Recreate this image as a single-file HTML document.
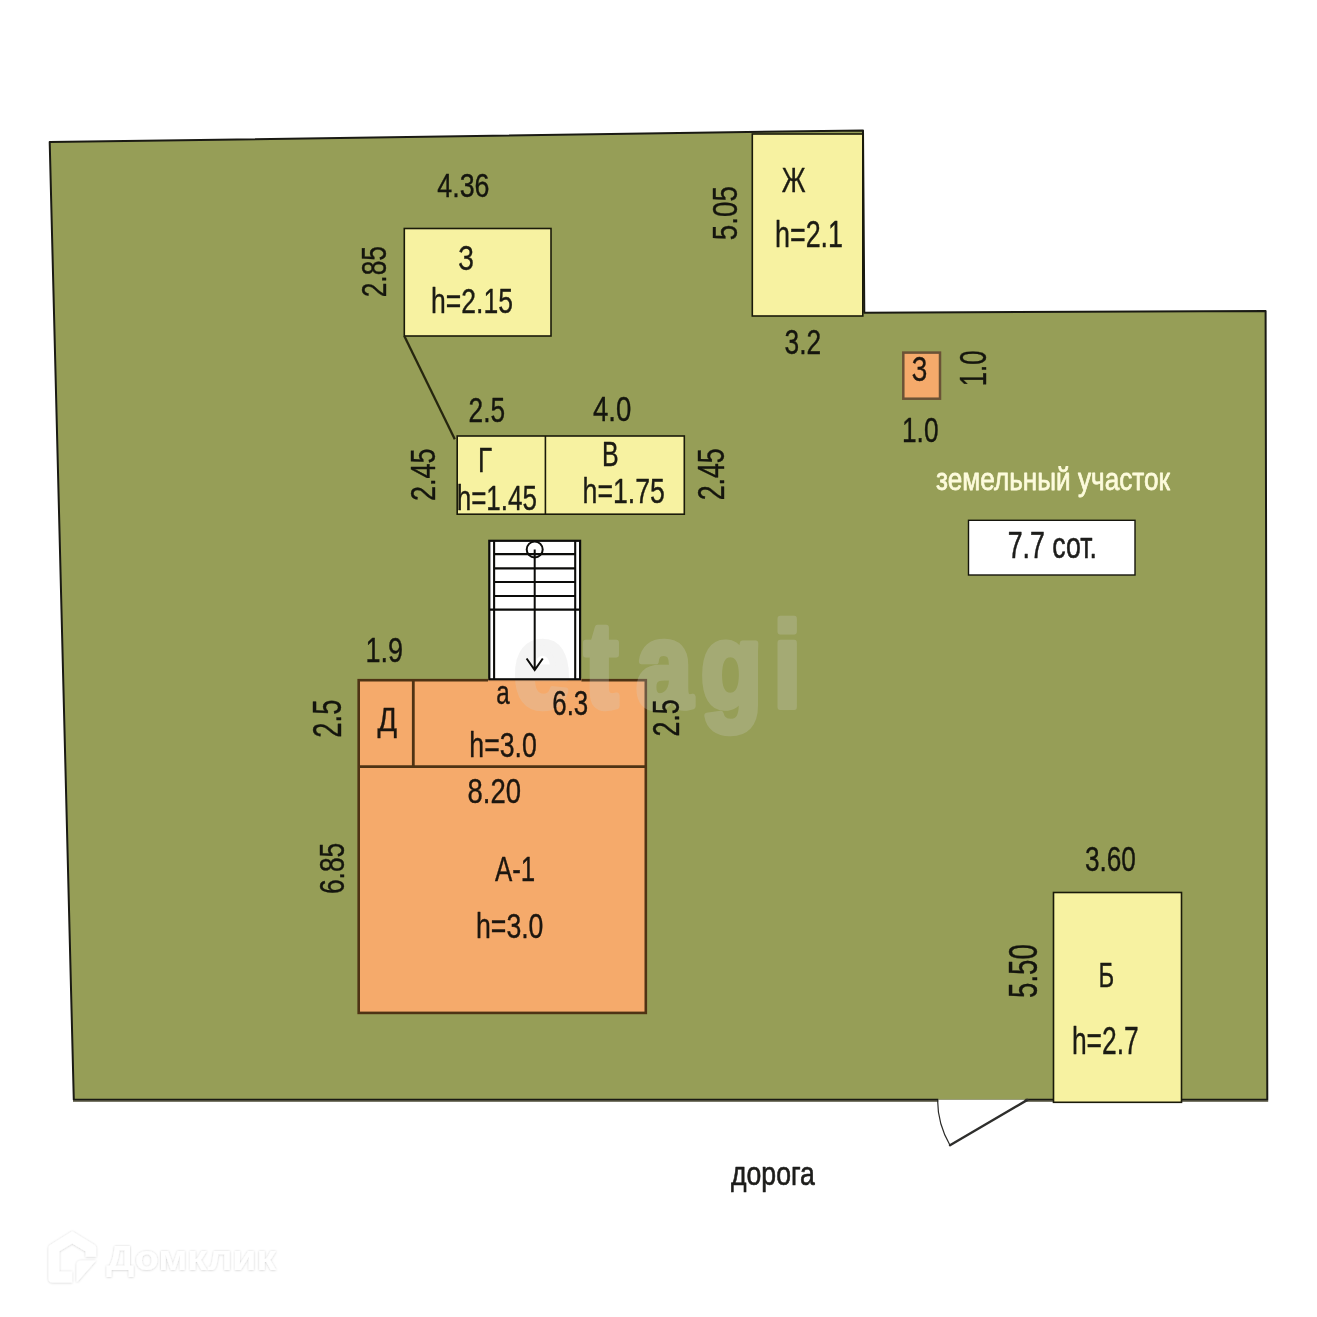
<!DOCTYPE html>
<html lang="ru"><head><meta charset="utf-8"><title>План участка</title>
<style>
html,body{margin:0;padding:0;background:#fff;}
body{width:1317px;height:1317px;overflow:hidden;}
svg{will-change:transform;display:block;font-family:"Liberation Sans",sans-serif;}
</style></head><body>
<svg width="1317" height="1317" viewBox="0 0 1317 1317">
<rect width="1317" height="1317" fill="#ffffff"/>
<polygon points="49.7,142.1 863,130.4 864.3,312.8 1265.6,311 1267.3,1099.7 73.8,1099.7" fill="#969e57" stroke="#1a1a14" stroke-width="2" stroke-linejoin="round"/>
<line x1="73" y1="1100.95" x2="1268.2" y2="1100.95" stroke="#4d4b36" stroke-width="1.6"/>
<rect x="938.3" y="1098" width="87.2" height="1.7" fill="#969e57"/>
<rect x="938.3" y="1099.7" width="86.2" height="2.4" fill="#ffffff"/>
<path d="M1027.4,1099.9 L950,1145.2" fill="none" stroke="#2e2e2c" stroke-width="2.4" stroke-linecap="round"/>
<path d="M937.6,1100 A90,90 0 0 0 950,1145.2" fill="none" stroke="#2a2a28" stroke-width="1.2"/>
<rect x="404.3" y="228.5" width="146.7" height="107.5" fill="#f7f2a1" stroke="#1a1a0a" stroke-width="1.6"/>
<rect x="752.3" y="134" width="110.5" height="182.0" fill="#f7f2a1" stroke="#1a1a0a" stroke-width="1.6"/>
<rect x="457.2" y="436" width="227.1" height="78.2" fill="#f7f2a1" stroke="#1a1a0a" stroke-width="1.6"/>
<line x1="545.4" y1="436" x2="545.4" y2="514" stroke="#1a1a0a" stroke-width="1.6"/>
<rect x="1053.5" y="892.5" width="128.0" height="209.8" fill="#f7f2a1" stroke="#1a1a0a" stroke-width="1.6"/>
<line x1="404.3" y1="336" x2="454.8" y2="439.3" stroke="#26260f" stroke-width="2.3"/>
<rect x="903.3" y="352.6" width="36.7" height="46.1" fill="#f5aa6b" stroke="#6a5236" stroke-width="2.5"/>
<rect x="968.5" y="520.3" width="166.5" height="54.7" fill="#ffffff" stroke="#15150c" stroke-width="1.4"/>
<rect x="358.7" y="680.2" width="287.1" height="332.7" fill="#f5aa6b" stroke="#4e3314" stroke-width="2.6"/>
<line x1="359" y1="766.6" x2="646" y2="766.6" stroke="#4e3314" stroke-width="2.6"/>
<line x1="413.3" y1="680" x2="413.3" y2="767" stroke="#4e3314" stroke-width="2.8"/>
<rect x="488" y="678" width="93.4" height="3.9" fill="#f5aa6b"/>
<rect x="489.3" y="540.8" width="90.8" height="138.6" fill="#ffffff"/>
<text transform="matrix(0.5040,0,0,0.6000,0,706.75)" x="1019.2 1159.6 1262.5 1390.3 1534.3" y="0" font-size="200" font-weight="bold" fill="#d2d2d2" stroke="#d2d2d2" stroke-width="10.8" stroke-linejoin="round" opacity="0.24">etagi</text>
<rect x="489.3" y="540.8" width="90.8" height="138.5" fill="none" stroke="#0c0c0a" stroke-width="2.2"/>
<line x1="494.1" y1="541" x2="494.1" y2="679.3" stroke="#0c0c0a" stroke-width="2.1"/>
<line x1="575.2" y1="541" x2="575.2" y2="679.3" stroke="#0c0c0a" stroke-width="2.1"/>
<line x1="494" y1="554.1" x2="575.3" y2="554.1" stroke="#0c0c0a" stroke-width="2.1"/>
<line x1="494" y1="568.4" x2="575.3" y2="568.4" stroke="#0c0c0a" stroke-width="2.1"/>
<line x1="494" y1="582" x2="575.3" y2="582" stroke="#0c0c0a" stroke-width="2.1"/>
<line x1="494" y1="596" x2="575.3" y2="596" stroke="#0c0c0a" stroke-width="2.1"/>
<line x1="489" y1="609.6" x2="580" y2="609.6" stroke="#0c0c0a" stroke-width="2.1"/>
<circle cx="534.7" cy="549.5" r="8" fill="none" stroke="#0c0c0a" stroke-width="2"/>
<path d="M534.7,549.5 L534.7,669.5 M526.6,658.5 L534.7,670 L542.8,658.5" fill="none" stroke="#0c0c0a" stroke-width="2"/>
<text transform="matrix(0.1341,0,0,0.1637,437.34,197.30)" font-size="200" fill="#0a0a08" stroke="#0a0a08" stroke-width="2.36" stroke-linejoin="round" opacity="0.92">4.36</text>
<text transform="matrix(0.1303,0,0,0.1743,458.16,269.78)" font-size="200" fill="#0a0a08" stroke="#0a0a08" stroke-width="2.32" stroke-linejoin="round" opacity="0.92">З</text>
<text transform="matrix(0.1327,0,0,0.1738,431.12,313.18)" font-size="200" fill="#0a0a08" stroke="#0a0a08" stroke-width="2.30" stroke-linejoin="round" opacity="0.92">h=2.15</text>
<text transform="matrix(0,-0.1319,0.1757,0,385.67,297.34)" font-size="200" fill="#0a0a08" stroke="#0a0a08" stroke-width="2.30" stroke-linejoin="round" opacity="0.92">2.85</text>
<text transform="matrix(0,-0.1393,0.1792,0,736.87,240.24)" font-size="200" fill="#0a0a08" stroke="#0a0a08" stroke-width="2.22" stroke-linejoin="round" opacity="0.92">5.05</text>
<text transform="matrix(0.1293,0,0,0.1779,781.79,192.12)" font-size="200" fill="#0a0a08" stroke="#0a0a08" stroke-width="2.31" stroke-linejoin="round" opacity="0.92">Ж</text>
<text transform="matrix(0.1345,0,0,0.1803,774.99,246.72)" font-size="200" fill="#0a0a08" stroke="#0a0a08" stroke-width="2.25" stroke-linejoin="round" opacity="0.92">h=2.1</text>
<text transform="matrix(0.1317,0,0,0.1771,784.62,354.17)" font-size="200" fill="#0a0a08" stroke="#0a0a08" stroke-width="2.29" stroke-linejoin="round" opacity="0.92">3.2</text>
<text transform="matrix(0.1293,0,0,0.1785,911.77,381.47)" font-size="200" fill="#0a0a08" stroke="#0a0a08" stroke-width="2.30" stroke-linejoin="round" opacity="0.92">З</text>
<text transform="matrix(0,-0.1291,0.1891,0,986.25,386.36)" font-size="200" fill="#0a0a08" stroke="#0a0a08" stroke-width="2.24" stroke-linejoin="round" opacity="0.92">1.0</text>
<text transform="matrix(0.1314,0,0,0.1771,902.00,441.57)" font-size="200" fill="#0a0a08" stroke="#0a0a08" stroke-width="2.29" stroke-linejoin="round" opacity="0.92">1.0</text>
<text transform="matrix(0.1338,0,0,0.1864,1007.71,557.98)" font-size="200" fill="#0a0a08" stroke="#0a0a08" stroke-width="3.17" stroke-linejoin="round" opacity="0.92">7.7 сот.</text>
<text transform="matrix(0.1313,0,0,0.1729,468.56,422.18)" font-size="200" fill="#0a0a08" stroke="#0a0a08" stroke-width="2.32" stroke-linejoin="round" opacity="0.92">2.5</text>
<text transform="matrix(0.1380,0,0,0.1764,593.02,420.87)" font-size="200" fill="#0a0a08" stroke="#0a0a08" stroke-width="2.24" stroke-linejoin="round" opacity="0.92">4.0</text>
<text transform="matrix(0,-0.1352,0.1792,0,435.17,500.98)" font-size="200" fill="#0a0a08" stroke="#0a0a08" stroke-width="2.25" stroke-linejoin="round" opacity="0.92">2.45</text>
<text transform="matrix(0.1298,0,0,0.1750,478.10,472.43)" font-size="200" fill="#0a0a08" stroke="#0a0a08" stroke-width="2.32" stroke-linejoin="round" opacity="0.92">Г</text>
<text transform="matrix(0.1302,0,0,0.1731,456.65,509.88)" font-size="200" fill="#0a0a08" stroke="#0a0a08" stroke-width="2.33" stroke-linejoin="round" opacity="0.92">h=1.45</text>
<text transform="matrix(0.1248,0,0,0.1736,601.88,466.43)" font-size="200" fill="#0a0a08" stroke="#0a0a08" stroke-width="2.38" stroke-linejoin="round" opacity="0.92">В</text>
<text transform="matrix(0.1334,0,0,0.1786,582.61,503.27)" font-size="200" fill="#0a0a08" stroke="#0a0a08" stroke-width="2.27" stroke-linejoin="round" opacity="0.92">h=1.75</text>
<text transform="matrix(0,-0.1336,0.1891,0,724.25,500.36)" font-size="200" fill="#0a0a08" stroke="#0a0a08" stroke-width="2.20" stroke-linejoin="round" opacity="0.92">2.45</text>
<text transform="matrix(0.1352,0,0,0.1743,365.55,661.78)" font-size="200" fill="#0a0a08" stroke="#0a0a08" stroke-width="2.28" stroke-linejoin="round" opacity="0.92">1.9</text>
<text transform="matrix(0,-0.1371,0.2018,0,341.42,737.70)" font-size="200" fill="#0a0a08" stroke="#0a0a08" stroke-width="2.10" stroke-linejoin="round" opacity="0.92">2.5</text>
<text transform="matrix(0.1447,0,0,0.1643,377.53,731.25)" font-size="200" fill="#0a0a08" stroke="#0a0a08" stroke-width="2.27" stroke-linejoin="round" opacity="0.92">Д</text>
<text transform="matrix(0.1209,0,0,0.1623,496.31,704.40)" font-size="200" fill="#0a0a08" stroke="#0a0a08" stroke-width="2.50" stroke-linejoin="round" opacity="0.92">a</text>
<text transform="matrix(0.1294,0,0,0.1708,552.28,714.68)" font-size="200" fill="#0a0a08" stroke="#0a0a08" stroke-width="2.35" stroke-linejoin="round" opacity="0.92">6.3</text>
<text transform="matrix(0.1333,0,0,0.1759,469.31,757.27)" font-size="200" fill="#0a0a08" stroke="#0a0a08" stroke-width="2.29" stroke-linejoin="round" opacity="0.92">h=3.0</text>
<text transform="matrix(0,-0.1337,0.1827,0,678.66,736.56)" font-size="200" fill="#0a0a08" stroke="#0a0a08" stroke-width="2.24" stroke-linejoin="round" opacity="0.92">2.5</text>
<text transform="matrix(0.1374,0,0,0.1736,467.54,803.48)" font-size="200" fill="#0a0a08" stroke="#0a0a08" stroke-width="2.27" stroke-linejoin="round" opacity="0.92">8.20</text>
<text transform="matrix(0,-0.1317,0.1778,0,343.87,894.04)" font-size="200" fill="#0a0a08" stroke="#0a0a08" stroke-width="2.29" stroke-linejoin="round" opacity="0.92">6.85</text>
<text transform="matrix(0.1296,0,0,0.1736,494.88,880.62)" font-size="200" fill="#0a0a08" stroke="#0a0a08" stroke-width="2.33" stroke-linejoin="round" opacity="0.92">A-1</text>
<text transform="matrix(0.1333,0,0,0.1711,476.01,937.98)" font-size="200" fill="#0a0a08" stroke="#0a0a08" stroke-width="2.32" stroke-linejoin="round" opacity="0.92">h=3.0</text>
<text transform="matrix(0.1311,0,0,0.1729,1084.93,871.28)" font-size="200" fill="#0a0a08" stroke="#0a0a08" stroke-width="2.32" stroke-linejoin="round" opacity="0.92">3.60</text>
<text transform="matrix(0,-0.1381,0.2032,0,1037.22,997.93)" font-size="200" fill="#0a0a08" stroke="#0a0a08" stroke-width="2.09" stroke-linejoin="round" opacity="0.92">5.50</text>
<text transform="matrix(0.1195,0,0,0.1779,1098.46,986.83)" font-size="200" fill="#0a0a08" stroke="#0a0a08" stroke-width="2.40" stroke-linejoin="round" opacity="0.92">Б</text>
<text transform="matrix(0.1321,0,0,0.1921,1071.93,1053.62)" font-size="200" fill="#0a0a08" stroke="#0a0a08" stroke-width="2.20" stroke-linejoin="round" opacity="0.92">h=2.7</text>
<text transform="matrix(0.1331,0,0,0.1687,731.03,1184.92)" font-size="200" fill="#0a0a08" stroke="#0a0a08" stroke-width="4.00" stroke-linejoin="round" opacity="0.92">дорога</text>
<text transform="matrix(0.1308,0,0,0.1611,936.10,490.19)" font-size="200" fill="#fdfbdc" stroke="#fdfbdc" stroke-width="4.82" stroke-linejoin="round">земельный участок</text>
<defs><filter id="sh" x="-10%" y="-30%" width="120%" height="160%"><feDropShadow dx="0" dy="0.3" stdDeviation="1.1" flood-color="#000000" flood-opacity="0.22"/></filter></defs>
<g filter="url(#sh)">
<path fill="#ffffff" d="M72.2,1231.2 L94.6,1245.1 Q96.2,1246.1 96.2,1248 L96.2,1256.8 L85.6,1256.8 L85.6,1251.6 L72.2,1243.4 L59.4,1251.3 L59.4,1271.6 L72.2,1271.6 L72.2,1282.6 L52.5,1282.6 Q48.5,1282.6 48.5,1278.6 L48.5,1248 Q48.5,1246.1 50.1,1245.1 Z"/>
<path fill="#ffffff" d="M76.5,1281.6 L76.5,1265 Q76.5,1260.4 81.3,1260.4 L96,1260.4 L77.7,1281.6 Z"/>
<text transform="matrix(0.1966,0,0,0.1798,106.21,1270.41)" font-size="200" fill="#ffffff" font-weight="bold">Домклик</text>
</g>
</svg></body></html>
